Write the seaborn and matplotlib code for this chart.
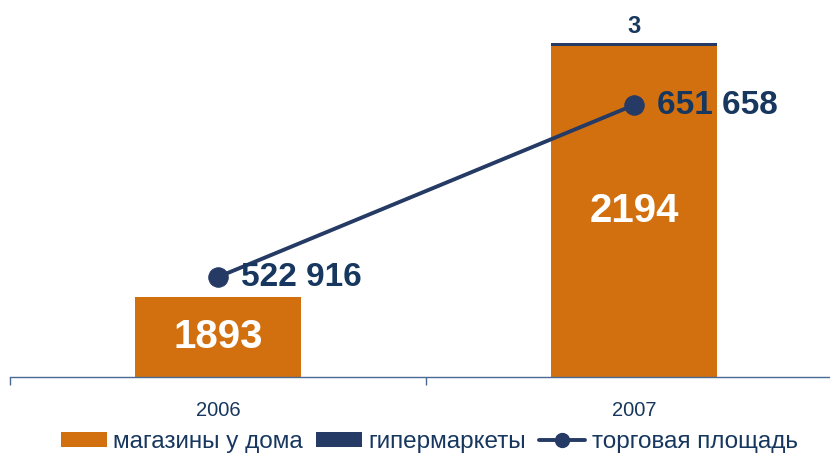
import matplotlib
matplotlib.use("Agg")
import matplotlib.pyplot as plt
import seaborn as sns
import pandas as pd
from matplotlib.patches import Patch
from matplotlib.lines import Line2D

years = ["2006", "2007"]
stores_home = [1893, 2194]
hypermarkets = [0, 3]
area = [522916, 651658]
area_labels = ["522 916", "651 658"]

sns.set_theme(style="white")
plt.rcParams['font.family'] = ['Liberation Sans', 'DejaVu Sans']

orange = "#D2700F"
navy = "#253A64"
text_navy = "#17375E"
axis_col = "#4A6A94"

fig = plt.figure(figsize=(8.3, 4.54), dpi=100)
ax = fig.add_axes([10/830, 77/454, 832/830, 367/454])

totals = [a + b for a, b in zip(stores_home, hypermarkets)]
df = pd.DataFrame({"year": years, "stores": stores_home, "total": totals})

sns.barplot(data=df, x="year", y="total", color=navy, width=0.4, ax=ax,
            saturation=1, linewidth=0, edgecolor="none")
sns.barplot(data=df, x="year", y="stores", color=orange, width=0.4, ax=ax,
            saturation=1, linewidth=0, edgecolor="none")

ymin, ymax = 1797.3, 2236.6
ax.set_ylim(ymin, ymax)
ax.set_xlim(-0.5, 1.5)

for i, v in enumerate(stores_home):
    ax.text(i, (ymin + v) / 2, str(v), ha="center", va="center", color="white",
            fontsize=29, fontweight="bold")
for i, (v, h) in enumerate(zip(stores_home, hypermarkets)):
    if h > 0:
        ax.text(i, v + h + 20, str(h), ha="center", va="center", color=text_navy,
                fontsize=17, fontweight="bold")

ax2 = ax.twinx()
sns.lineplot(x=[0, 1], y=area, ax=ax2, color=navy, linewidth=2.8, marker="o",
             markersize=14, markeredgecolor=navy)
ax2.set_ylim(448066, 722766)
for i, (v, lab) in enumerate(zip(area, area_labels)):
    ax2.text(i + 0.055, v, lab, ha="left", va="center", color=text_navy,
             fontsize=24, fontweight="bold")

for a in (ax, ax2):
    for s in ["top", "right", "left"]:
        a.spines[s].set_visible(False)
    a.set_yticks([])
    a.set_ylabel("")
ax2.spines["bottom"].set_visible(False)
ax.spines["bottom"].set_color(axis_col)
ax.spines["bottom"].set_linewidth(1.0)
ax.set_xlabel("")
ax.set_xticks([0, 1])
ax.set_xticklabels(years, color=text_navy, fontsize=14.5)
ax.tick_params(axis="x", length=0, pad=17)
ax.set_xticks([-0.5, 0.5, 1.5], minor=True)
ax.tick_params(axis="x", which="minor", length=6, color=axis_col, width=1.0, bottom=True)

handles = [
    Patch(facecolor=orange, edgecolor="none"),
    Patch(facecolor=navy, edgecolor="none"),
    Line2D([0], [0], color=navy, linewidth=2.8, marker="o", markersize=10),
]
labels = ["магазины у дома", "гипермаркеты", "торговая площадь"]
fig.legend(handles, labels, loc="center", bbox_to_anchor=(0.517, 1 - 442/454), ncol=3,
           frameon=False, fontsize=17.5, handlelength=1.9, handleheight=0.6,
           handletextpad=0.25, columnspacing=0.55, labelcolor=text_navy,
           borderpad=0, borderaxespad=0)

fig.savefig("out.png", dpi=100)
